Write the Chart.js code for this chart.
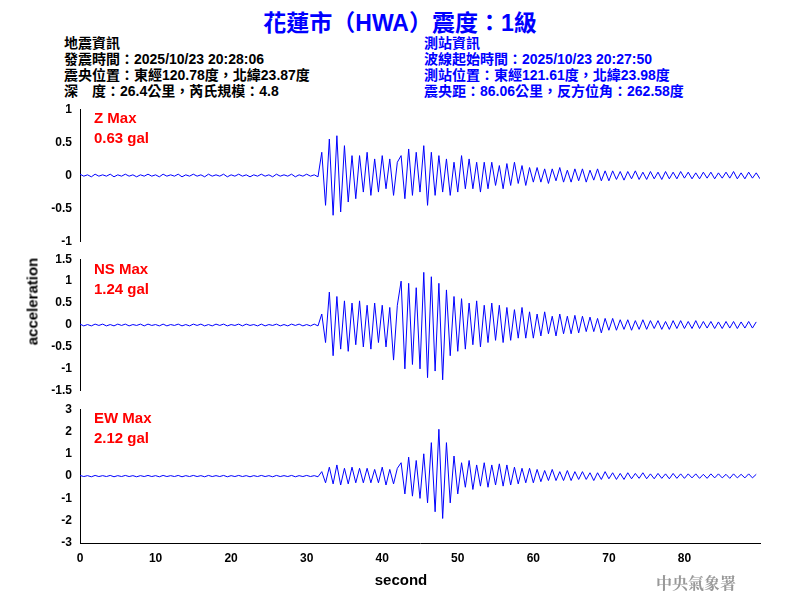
<!DOCTYPE html>
<html>
<head>
<meta charset="utf-8">
<script src="https://cdn.jsdelivr.net/npm/chart.js@4"></script>
<style>
  body { margin: 0; width: 800px; height: 600px; background: #fff; position: relative; overflow: hidden;
    font-family: "Liberation Sans", Arial, "Noto Sans CJK TC", sans-serif; }
  canvas { position: absolute; left: 0; }
  .txt { position: absolute; white-space: nowrap; font-weight: bold; }
  .info { font-size: 14px; line-height: 16px; }
  .lab { color: #ff0000; font-size: 15px; line-height: 20px; }
</style>
</head>
<body>
<div class="txt" style="left:0;width:800px;text-align:center;top:4px;font-size:23px;color:#0000ff;">花蓮市（HWA）震度：1級</div>
<div class="txt info" style="left:64px;top:35px;color:#000;">地震資訊<br>發震時間：2025/10/23 20:28:06<br>震央位置：東經120.78度，北緯23.87度<br>深　度：26.4公里，芮氏規模：4.8</div>
<div class="txt info" style="left:424px;top:35px;color:#0000ff;">測站資訊<br>波線起始時間：2025/10/23 20:27:50<br>測站位置：東經121.61度，北緯23.98度<br>震央距：86.06公里，反方位角：262.58度</div>

<canvas id="zChart" width="800" height="151" style="top:100px"></canvas>
<canvas id="nsChart" width="800" height="150" style="top:250px"></canvas>
<canvas id="ewChart" width="800" height="200" style="top:400px"></canvas>

<div class="txt lab" style="left:94px;top:108px;">Z Max<br>0.63 gal</div>
<div class="txt lab" style="left:94px;top:259px;">NS Max<br>1.24 gal</div>
<div class="txt lab" style="left:94px;top:408px;">EW Max<br>2.12 gal</div>
<div class="txt" style="left:-18px;top:293px;font-size:15px;transform:rotate(-90deg);width:100px;text-align:center;">acceleration</div>
<div class="txt" style="left:0;width:802px;text-align:center;top:571px;font-size:15px;">second</div>
<div class="txt" style="left:656px;top:571px;font-size:16px;color:#999;font-family:'Noto Serif CJK TC','Noto Sans CJK TC',serif;">中央氣象署</div>

<script>
// peak values every 0.5 s, 0 .. 90 s
const timeStep = 0.5;
const zPeaks = [
  0.02,-0.01,0.01,-0.02,0.02,-0.01,0.01,-0.01,0.02,-0.02,
  0.01,-0.01,0.02,-0.01,0.01,-0.02,0.01,-0.01,0.02,-0.01,
  0.01,-0.02,0.02,-0.01,0.01,-0.01,0.02,-0.02,0.01,-0.01,
  0.02,-0.01,0.01,-0.02,0.02,-0.01,0.01,-0.01,0.02,-0.02,
  0.01,-0.01,0.02,-0.01,0.01,-0.02,0.01,-0.01,0.02,-0.01,
  0.01,-0.02,0.02,-0.01,0.01,-0.01,0.02,-0.02,0.01,-0.01,
  0.02,-0.01,0.01,-0.02,
  0.35,-0.45,0.55,-0.6,0.6,-0.55,0.45,
  -0.4,0.3,-0.35,0.3,-0.25,0.35,-0.3,0.25,-0.25,0.3,-0.2,0.25,-0.3,0.2,
  0.3,-0.35,0.4,-0.3,0.35,-0.25,0.45,-0.45,0.35,-0.3,0.3,-0.25,
  0.25,-0.3,0.2,-0.25,0.3,-0.2,0.25,-0.2,0.2,-0.25,0.2,-0.2,0.2,-0.15,
  0.15,-0.2,0.18,-0.15,0.2,-0.12,0.15,-0.15,0.12,-0.1,
  0.12,-0.1,0.1,-0.12,0.1,-0.08,0.12,-0.1,0.08,-0.1,0.1,-0.08,0.1,-0.1,0.08,-0.07,0.1,-0.08,0.07,-0.08,
  0.07,-0.06,0.06,-0.07,0.06,-0.05,0.07,-0.06,0.05,-0.06,0.06,-0.05,0.05,-0.06,0.06,-0.05,0.05,-0.05,0.06,-0.04,
  0.05,-0.05,0.04,-0.05,0.05,-0.04,0.05,-0.05,0.04,-0.04,0.05,-0.04,0.06,-0.05,0.04,-0.05,0.05,-0.04,0.04,-0.05
];
const nsPeaks = [
  0.02,-0.02,0.01,-0.02,0.02,-0.01,0.02,-0.02,0.01,-0.02,
  0.02,-0.01,0.02,-0.02,0.01,-0.01,0.02,-0.02,0.02,-0.01,
  0.01,-0.02,0.02,-0.02,0.01,-0.01,0.02,-0.02,0.01,-0.02,
  0.02,-0.01,0.02,-0.02,0.01,-0.02,0.02,-0.01,0.02,-0.02,
  0.01,-0.01,0.02,-0.02,0.02,-0.01,0.01,-0.02,0.02,-0.02,
  0.01,-0.01,0.02,-0.02,0.01,-0.02,0.02,-0.01,0.02,-0.02,
  0.01,-0.02,0.02,-0.02,
  0.25,-0.4,0.75,-0.7,0.65,-0.55,0.55,
  -0.6,0.5,-0.45,0.55,-0.5,0.45,-0.55,0.5,-0.4,0.45,-0.5,0.4,-0.8,0.45,
  1.0,-1.0,0.95,-0.9,0.85,-1.0,1.2,-1.2,1.1,-1.05,0.95,-1.25,
  0.8,-0.7,0.65,-0.6,0.6,-0.55,0.5,-0.45,0.55,-0.5,0.45,-0.4,0.5,-0.35,
  0.45,-0.4,0.4,-0.35,0.35,-0.3,0.4,-0.3,0.3,-0.3,
  0.25,-0.25,0.3,-0.2,0.2,-0.25,0.25,-0.2,0.2,-0.2,0.22,-0.18,0.2,-0.15,0.18,-0.15,0.15,-0.18,0.15,-0.12,
  0.15,-0.12,0.12,-0.1,0.12,-0.12,0.1,-0.1,0.12,-0.1,0.1,-0.08,0.1,-0.1,0.08,-0.1,0.1,-0.08,0.1,-0.08,
  0.08,-0.08,0.1,-0.08,0.08,-0.07,0.08,-0.08,0.07,-0.08,0.08,-0.07,0.08,-0.08,0.07,-0.07,0.08,-0.07,0.07
];
const ewPeaks = [
  0.03,-0.02,0.02,-0.03,0.03,-0.02,0.02,-0.02,0.03,-0.03,
  0.02,-0.02,0.03,-0.02,0.02,-0.03,0.02,-0.02,0.03,-0.02,
  0.02,-0.03,0.03,-0.02,0.02,-0.02,0.03,-0.03,0.02,-0.02,
  0.03,-0.02,0.02,-0.03,0.03,-0.02,0.02,-0.02,0.03,-0.03,
  0.02,-0.02,0.03,-0.02,0.02,-0.03,0.02,-0.02,0.03,-0.02,
  0.02,-0.03,0.03,-0.02,0.02,-0.02,0.03,-0.03,0.02,-0.02,
  0.03,-0.02,0.02,-0.03,
  0.2,-0.3,0.4,-0.35,0.5,-0.4,0.35,
  -0.35,0.4,-0.3,0.35,-0.3,0.35,-0.3,0.3,-0.3,0.4,-0.4,0.3,-0.35,0.35,
  0.6,-0.8,0.85,-0.9,0.7,-1.0,1.0,-1.2,1.5,-1.6,2.1,-1.9,
  1.5,-1.2,0.9,-0.8,0.6,-0.5,0.7,-0.6,0.5,-0.45,0.6,-0.5,0.5,-0.4,
  0.55,-0.45,0.5,-0.4,0.4,-0.35,0.35,-0.3,0.35,-0.3,
  0.3,-0.25,0.25,-0.2,0.3,-0.2,0.2,-0.2,0.25,-0.2,0.2,-0.15,0.2,-0.15,0.15,-0.2,0.15,-0.15,0.2,-0.12,
  0.15,-0.15,0.12,-0.15,0.15,-0.12,0.12,-0.1,0.15,-0.12,0.1,-0.12,0.12,-0.1,0.1,-0.12,0.12,-0.1,0.1,-0.1,
  0.1,-0.08,0.1,-0.1,0.08,-0.1,0.1,-0.08,0.1,-0.08,0.08,-0.1,0.1,-0.08,0.08,-0.08,0.1,-0.08,0.08
];
const xTicks = [0, 10, 20, 30, 40, 50, 60, 70, 80];
const zTicks = [-1, -0.5, 0, 0.5, 1];
const nsTicks = [-1.5, -1, -0.5, 0, 0.5, 1, 1.5];
const ewTicks = [-3, -2, -1, 0, 1, 2, 3];

const tickFont = { family: "Liberation Sans, Arial", size: 12, weight: "bold" };

function makeTrace(canvasId, peaks, yTicks, showX, padBottom) {
  const points = peaks.map((v, i) => ({ x: i * timeStep, y: v }));
  const yMin = yTicks[0];
  const yMax = yTicks[yTicks.length - 1];
  return new Chart(document.getElementById(canvasId), {
    type: "line",
    data: {
      datasets: [{
        data: points,
        borderColor: "#0000ff",
        borderWidth: 1,
        pointRadius: 0,
        tension: 0
      }]
    },
    options: {
      responsive: false,
      animation: false,
      layout: { padding: { top: 8, bottom: padBottom, right: 40, left: 0 } },
      plugins: { legend: { display: false }, tooltip: { enabled: false } },
      scales: {
        x: {
          type: "linear",
          min: 0,
          max: 90,
          display: showX,
          afterBuildTicks: (s) => { s.ticks = xTicks.map((v) => ({ value: v })); },
          afterFit: (s) => { s.height = showX ? 57 : 0; },
          grid: { display: false, drawTicks: true, tickLength: 6, color: "#000" },
          border: { color: "#000", width: 1 },
          ticks: { color: "#000", font: tickFont, maxRotation: 0, autoSkip: false, padding: 2,
            callback: (v) => String(v) }
        },
        y: {
          min: yMin,
          max: yMax,
          afterBuildTicks: (s) => { s.ticks = yTicks.map((v) => ({ value: v })); },
          afterFit: (s) => { s.width = 80; },
          grid: { display: false, drawTicks: true, tickLength: 6, color: "#000" },
          border: { color: "#000", width: 1 },
          ticks: { color: "#000", font: tickFont, autoSkip: false, padding: 2,
            callback: (v) => String(v) }
        }
      }
    }
  });
}

makeTrace("zChart", zPeaks, zTicks, false, 8);
makeTrace("nsChart", nsPeaks, nsTicks, false, 8);
makeTrace("ewChart", ewPeaks, ewTicks, true, 0);
</script>
</body>
</html>
